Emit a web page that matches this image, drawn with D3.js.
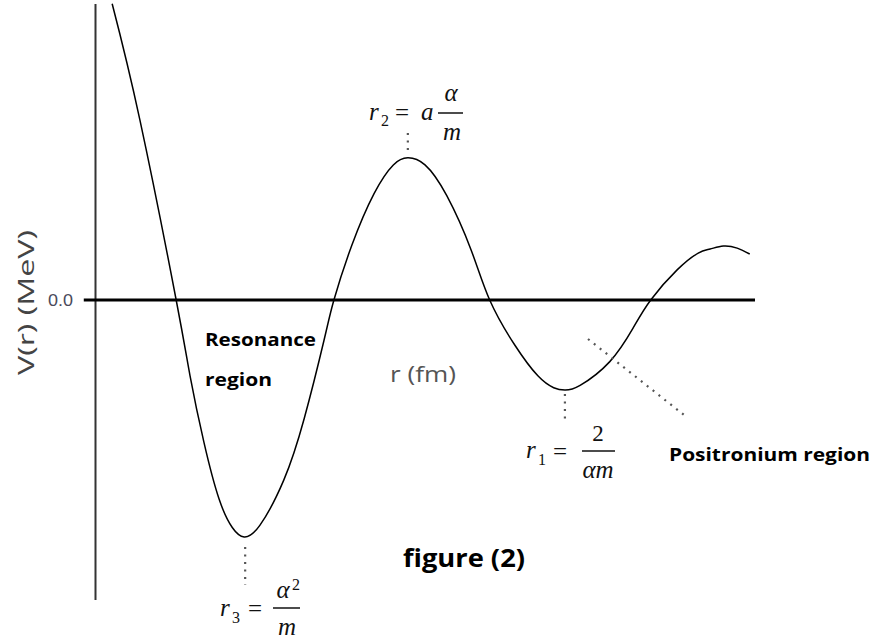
<!DOCTYPE html>
<html>
<head>
<meta charset="utf-8">
<script src="https://cdn.jsdelivr.net/npm/d3@7"></script>
<style>
  body { margin: 0; background: #fff; }
  svg { display: block; }
</style>
</head>
<body>
<script>
let w = 888
let h = 642

// curve samples (arbitrary units)
let rVals = [0.26, 0.68, 1.23, 1.44, 1.65, 1.88, 2.08, 2.26, 2.50, 2.86, 3.17, 3.47, 3.62,
  3.89, 4.23, 4.52, 4.74, 5.00, 5.33, 5.70, 5.98, 6.36, 6.71, 6.95, 7.12, 7.35, 7.80, 8.15,
  8.42, 8.82, 9.14, 9.32, 9.52, 9.73, 9.92]
let vVals = [1.25, 0.76, 0.00, -0.32, -0.60, -0.84, -0.96, -1.00, -0.95, -0.76, -0.50, -0.17, 0.00,
  0.23, 0.45, 0.57, 0.60, 0.57, 0.44, 0.21, 0.00, -0.19, -0.32, -0.37, -0.38, -0.36, -0.26, -0.12,
  0.00, 0.127, 0.198, 0.215, 0.228, 0.219, 0.194]

// extrema that get a dotted leader
let markR = [2.26, 4.74, 7.12]
let markV = [-1.00, 0.60, -0.38]

let yTicks = [0.0]

let x = d3.scaleLinear().domain([0, 10]).range([95, 755])
let y = d3.scaleLinear().domain([-1, 1]).range([537, 63])

let svg = d3.select("body").append("svg")
  .attr("width", w)
  .attr("height", h)

// vertical axis
svg.append("line")
  .attr("x1", x(0) + 0.5).attr("x2", x(0) + 0.5)
  .attr("y1", 4).attr("y2", 600)
  .attr("stroke", "#333")
  .attr("stroke-width", 2)

// zero line
svg.append("line")
  .attr("x1", x(-0.17)).attr("x2", x(10))
  .attr("y1", y(0)).attr("y2", y(0))
  .attr("stroke", "#000")
  .attr("stroke-width", 3)

svg.selectAll(".ytick")
  .data(yTicks)
  .enter()
  .append("text")
  .attr("class", "ytick")
  .attr("x", 48)
  .attr("y", d => y(d) + 6)
  .attr("font-family", "Liberation Sans Narrow, Liberation Sans, sans-serif")
  .attr("font-size", 17)
  .attr("fill", "#4a4a5a")
  .attr("textLength", 25)
  .attr("lengthAdjust", "spacingAndGlyphs")
  .text(d => d.toFixed(1))

// axis titles
svg.append("text")
  .attr("transform", "translate(34,375) rotate(-90)")
  .attr("font-family", "Open Sans, sans-serif")
  .attr("font-size", 22)
  .attr("fill", "#444")
  .attr("textLength", 145)
  .attr("lengthAdjust", "spacingAndGlyphs")
  .text("V(r) (MeV)")

svg.append("text")
  .attr("x", 390)
  .attr("y", 382)
  .attr("font-family", "Open Sans, sans-serif")
  .attr("font-size", 22)
  .attr("fill", "#555")
  .attr("textLength", 66)
  .attr("lengthAdjust", "spacingAndGlyphs")
  .text("r (fm)")

// the potential curve
let pts = rVals.map((r, i) => [r, vVals[i]])
let line = d3.line()
  .x(d => x(d[0]))
  .y(d => y(d[1]))
  .curve(d3.curveNatural)

svg.append("path")
  .attr("d", line(pts))
  .attr("fill", "none")
  .attr("stroke", "#000")
  .attr("stroke-width", 1.5)

// dotted leaders
let dotted = (x1, y1, x2, y2) => {
  svg.append("line")
    .attr("x1", x1).attr("y1", y1)
    .attr("x2", x2).attr("y2", y2)
    .attr("stroke", "#555")
    .attr("stroke-width", 2.2)
    .attr("stroke-dasharray", "2,5.5")
}
dotted(x(markR[0]) + 1, y(markV[0]) + 10, x(markR[0]) + 1, 585)
dotted(x(markR[1]), 133, x(markR[1]), y(markV[1]) - 3)
dotted(x(markR[2]), y(markV[2]) + 4, x(markR[2]), 422)
dotted(588, 339, 684, 415)

// math labels
let serif = "Liberation Serif, DejaVu Serif, serif"
let mathText = (tx, ty, str, size, italic, anchor) => {
  svg.append("text")
    .attr("x", tx).attr("y", ty)
    .attr("font-family", serif)
    .attr("font-style", italic ? "italic" : "normal")
    .attr("font-size", size)
    .attr("text-anchor", anchor || "start")
    .attr("fill", "#111")
    .text(str)
}
let bar = (x1, x2, yy) => {
  svg.append("line")
    .attr("x1", x1).attr("x2", x2)
    .attr("y1", yy).attr("y2", yy)
    .attr("stroke", "#111")
    .attr("stroke-width", 1.5)
}

// r2 = a alpha/m
mathText(369, 120, "r", 25, true)
mathText(381, 126, "2", 16, false)
mathText(395, 121, "=", 25, false)
mathText(421, 120, "a", 25, true)
bar(438, 463, 113)
mathText(451, 101, "α", 25, true, "middle")
mathText(452, 140, "m", 25, true, "middle")

// r3 = alpha^2/m
mathText(220, 616, "r", 25, true)
mathText(232, 623, "3", 16, false)
mathText(248, 617, "=", 25, false)
bar(273, 300, 608)
mathText(283, 598, "α", 25, true, "middle")
mathText(296, 590, "2", 16, false, "middle")
mathText(287, 635, "m", 25, true, "middle")

// r1 = 2/(alpha m)
mathText(526, 458, "r", 25, true)
mathText(538, 465, "1", 16, false)
mathText(553, 460, "=", 25, false)
bar(582, 615, 451)
mathText(598, 441, "2", 23, false, "middle")
mathText(598, 478, "αm", 25, true, "middle")

// region labels
let boldText = (tx, ty, str, size, len) => {
  svg.append("text")
    .attr("x", tx).attr("y", ty)
    .attr("font-family", "Open Sans, Lato, sans-serif")
    .attr("font-weight", "bold")
    .attr("font-size", size)
    .attr("fill", "#000")
    .attr("textLength", len)
    .attr("lengthAdjust", "spacingAndGlyphs")
    .text(str)
}
boldText(205, 346, "Resonance", 18, 111)
boldText(205, 386, "region", 18, 67)
boldText(669, 461, "Positronium region", 18, 201)
boldText(403, 567, "figure (2)", 25, 122)
</script>
</body>
</html>
